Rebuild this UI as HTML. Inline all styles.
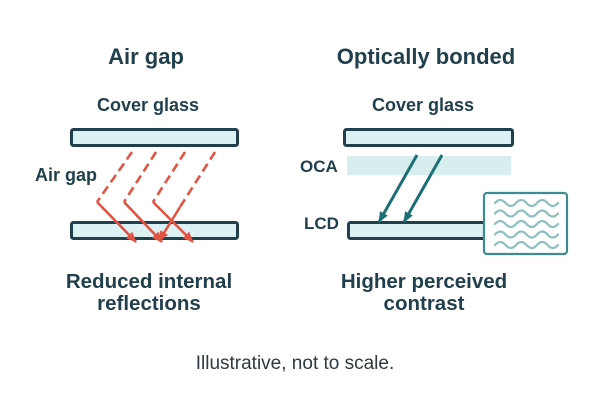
<!DOCTYPE html>
<html><head><meta charset="utf-8"><style>
html,body{margin:0;padding:0;background:#fff;}
svg{display:block;}
text{font-family:"Liberation Sans",sans-serif;fill:#213f4c;font-weight:bold;}
</style></head><body>
<svg width="600" height="400" viewBox="0 0 600 400" xmlns="http://www.w3.org/2000/svg">
<defs>
<marker id="ar" markerWidth="11" markerHeight="10" refX="10" refY="5" orient="auto" markerUnits="userSpaceOnUse"><path d="M0,0.5 L11,5 L0,9.5 Z" fill="#e05444"/></marker>
<marker id="at" markerWidth="11" markerHeight="10" refX="10" refY="5" orient="auto" markerUnits="userSpaceOnUse"><path d="M0,0.5 L11,5 L0,9.5 Z" fill="#1d6f76"/></marker>
</defs>
<rect width="600" height="400" fill="#fff"/>
<!-- titles -->
<text x="146" y="64" font-size="22" text-anchor="middle">Air gap</text>
<text x="426" y="64" font-size="22" text-anchor="middle">Optically bonded</text>
<text x="148" y="111" font-size="18" text-anchor="middle">Cover glass</text>
<text x="423" y="111" font-size="18" text-anchor="middle">Cover glass</text>
<!-- left panel -->
<rect x="71.5" y="129.5" width="166" height="16" rx="2" fill="#dcf1f3" stroke="#213f4c" stroke-width="3"/>
<rect x="71.5" y="222.5" width="166" height="16" rx="2" fill="#dcf1f3" stroke="#213f4c" stroke-width="3"/>
<text x="35" y="181" font-size="18">Air gap</text>
<g stroke="#e05444" stroke-width="2.6" fill="none">
<path d="M132,152 L97,202" stroke-dasharray="9 5"/>
<path d="M97,202 L136,242" marker-end="url(#ar)"/>
<path d="M156,152 L124,202" stroke-dasharray="9 5"/>
<path d="M124,202 L162,242" marker-end="url(#ar)"/>
<path d="M185,152 L153,202" stroke-dasharray="9 5"/>
<path d="M153,202 L193,242" marker-end="url(#ar)"/>
<path d="M215,152 L180,207" stroke-dasharray="9 5"/>
<path d="M180,207 L159,241" marker-end="url(#ar)"/>
</g>
<!-- right panel -->
<rect x="344.5" y="129.5" width="168" height="16" rx="2" fill="#dcf1f3" stroke="#213f4c" stroke-width="3"/>
<rect x="347" y="156" width="164" height="19" fill="#d8eeee"/>
<text x="300" y="172" font-size="17">OCA</text>
<rect x="348.5" y="222.5" width="140" height="16" rx="2" fill="#dcf1f3" stroke="#213f4c" stroke-width="3"/>
<text x="304" y="229" font-size="17">LCD</text>
<g stroke="#1d6f76" stroke-width="3" fill="none">
<path d="M417,155 L379,222" marker-end="url(#at)"/>
<path d="M442,155 L404,222" marker-end="url(#at)"/>
</g>
<rect x="484" y="193" width="83" height="61" rx="3" fill="#fff" stroke="#3d8c90" stroke-width="2.2"/>
<g stroke="#8dbfc0" stroke-width="2.2" fill="none" stroke-linecap="round">
<path d="M495,203 q5.25,-6 10.5,0 t10.5,0 t10.5,0 t10.5,0 t10.5,0 t10.5,0"/>
<path d="M495,213.5 q5.25,-6 10.5,0 t10.5,0 t10.5,0 t10.5,0 t10.5,0 t10.5,0"/>
<path d="M495,224 q5.25,-6 10.5,0 t10.5,0 t10.5,0 t10.5,0 t10.5,0 t10.5,0"/>
<path d="M495,234.5 q5.25,-6 10.5,0 t10.5,0 t10.5,0 t10.5,0 t10.5,0 t10.5,0"/>
<path d="M495,245 q5.25,-6 10.5,0 t10.5,0 t10.5,0 t10.5,0 t10.5,0 t10.5,0"/>
</g>
<!-- captions -->
<text x="149" y="288" font-size="20.5" text-anchor="middle">Reduced internal</text>
<text x="149" y="310" font-size="20.5" text-anchor="middle">reflections</text>
<text x="424" y="288" font-size="20.5" text-anchor="middle">Higher perceived</text>
<text x="424" y="310" font-size="20.5" text-anchor="middle">contrast</text>
<text x="295" y="369" font-size="19" text-anchor="middle" style="font-weight:normal;fill:#2e3a40">Illustrative, not to scale.</text>
</svg>
</body></html>
